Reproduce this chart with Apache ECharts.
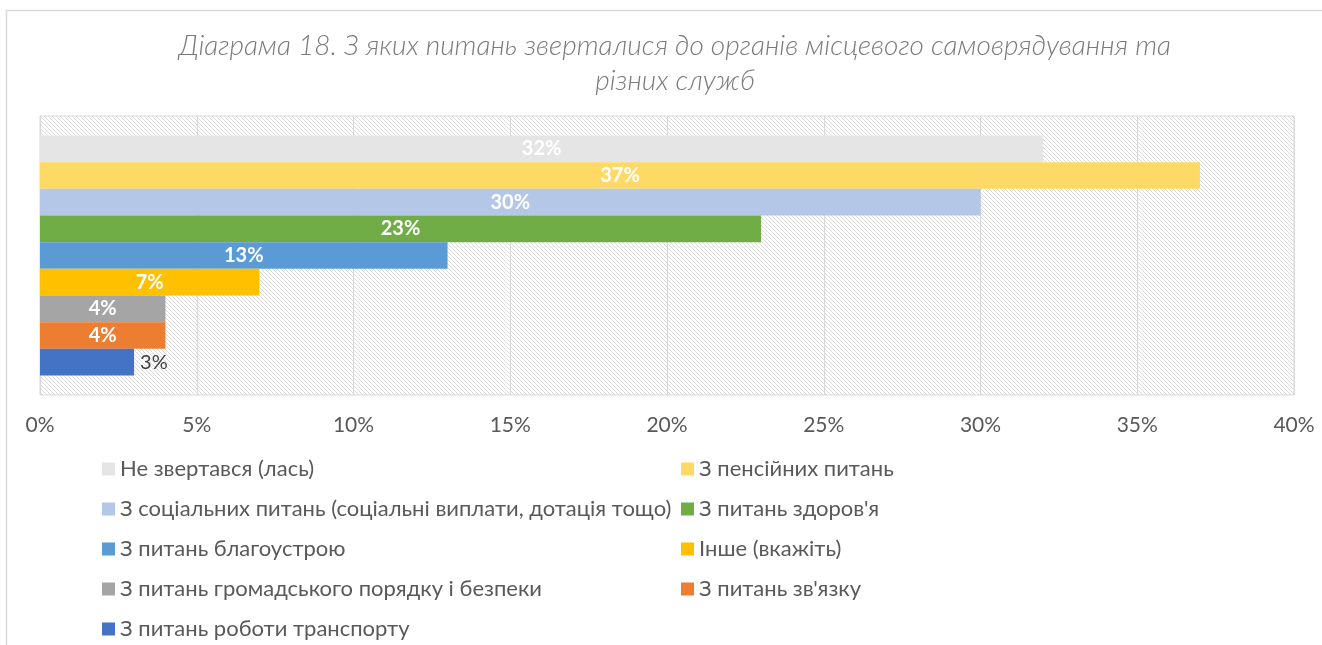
<!DOCTYPE html>
<html>
<head>
<meta charset="utf-8">
<script src="https://cdn.jsdelivr.net/npm/echarts@6/dist/echarts.min.js"></script>
<style>
  html, body { margin: 0; padding: 0; background: #fff; }
  #chart { width: 1322px; height: 645px; }
</style>
</head>
<body>
<div id="chart"></div>
<script>
  // data, top bar first
  const seriesNames = [
    'Не звертався (лась)',
    'З пенсійних питань',
    'З соціальних питань (соціальні виплати, дотація тощо)',
    "З питань здоров'я",
    'З питань благоустрою',
    'Інше (вкажіть)',
    'З питань громадського порядку і безпеки',
    "З питань зв'язку",
    'З питань роботи транспорту'
  ];
  const seriesValues = [32, 37, 30, 23, 13, 7, 4, 4, 3];
  const seriesColors = ['#e5e5e5', '#ffd966', '#b4c7e7', '#70ad47', '#5b9bd5', '#ffc000', '#a5a5a5', '#ed7d31', '#4472c4'];
  const xTicks = [0, 5, 10, 15, 20, 25, 30, 35, 40];

  const FONT = 'Lato, "Open Sans", sans-serif';

  // diagonal hatch for the plot background
  const hatch = document.createElement('canvas');
  hatch.width = 4;
  hatch.height = 4;
  const hctx = hatch.getContext('2d');
  hctx.fillStyle = '#fff';
  hctx.fillRect(0, 0, 4, 4);
  hctx.fillStyle = '#dadada';
  for (let i = 0; i < 4; i++) hctx.fillRect(i, i, 1, 1);

  const chart = echarts.init(document.getElementById('chart'));

  const series = seriesNames.map((name, i) => {
    const last = i === seriesNames.length - 1;
    return {
      name,
      type: 'bar',
      data: [seriesValues[i]],
      barGap: '0%',
      barCategoryGap: '14%',
      itemStyle: { color: seriesColors[i] },
      label: {
        show: true,
        position: last ? 'right' : 'inside',
        distance: 6,
        formatter: '{c}%',
        fontFamily: FONT,
        fontSize: 20,
        fontWeight: last ? 'normal' : 'bold',
        color: last ? '#404040' : '#ffffff'
      },
      emphasis: { disabled: true }
    };
  });

  const legendText = { color: '#595959', fontSize: 22, fontFamily: FONT };

  chart.setOption({
    animation: false,
    title: {
      text: 'Діаграма 18. З яких питань зверталися до органів місцевого самоврядування та\nрізних служб',
      left: 670,
      top: 23,
      textAlign: 'center',
      textStyle: {
        fontFamily: FONT,
        fontStyle: 'italic',
        fontWeight: 300,
        fontSize: 28,
        lineHeight: 35,
        color: '#7a7a7a',
        align: 'center'
      }
    },
    graphic: [{
      type: 'rect',
      shape: { x: 6.5, y: 10.5, width: 1400, height: 700 },
      style: { fill: 'none', stroke: '#d9d9d9', lineWidth: 1.5 },
      silent: true,
      z: -1
    }],
    grid: {
      left: 40,
      right: 28,
      top: 116,
      bottom: 250,
      show: true,
      backgroundColor: { image: hatch, repeat: 'repeat' },
      borderColor: '#d9d9d9',
      borderWidth: 1
    },
    legend: [
      {
        data: seriesNames.filter((_, i) => i % 2 === 0),
        orient: 'vertical',
        left: 97,
        top: 453,
        height: 200,
        itemGap: 18,
        itemWidth: 13,
        itemHeight: 13,
        icon: 'rect',
        textStyle: legendText
      },
      {
        data: seriesNames.filter((_, i) => i % 2 === 1),
        orient: 'vertical',
        left: 676,
        top: 453,
        height: 200,
        itemGap: 18,
        itemWidth: 13,
        itemHeight: 13,
        icon: 'rect',
        textStyle: legendText
      }
    ],
    xAxis: {
      type: 'value',
      min: xTicks[0],
      max: xTicks[xTicks.length - 1],
      interval: 5,
      axisLine: { show: false },
      axisTick: { show: false },
      axisLabel: {
        formatter: '{value}%',
        color: '#595959',
        fontFamily: FONT,
        fontSize: 21,
        margin: 20
      },
      splitLine: { lineStyle: { color: '#d9d9d9', width: 1 } }
    },
    yAxis: {
      type: 'category',
      data: [''],
      inverse: true,
      axisLine: { show: false },
      axisTick: { show: false },
      axisLabel: { show: false }
    },
    series
  });
</script>
</body>
</html>
